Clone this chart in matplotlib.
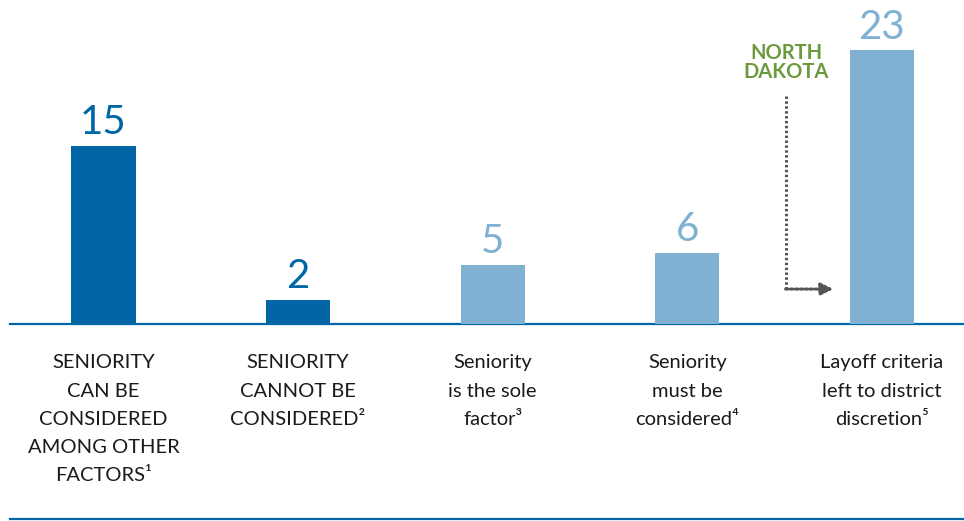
import matplotlib.pyplot as plt

categories = [
    "SENIORITY\nCAN BE\nCONSIDERED\nAMONG OTHER\nFACTORS\u00b9",
    "SENIORITY\nCANNOT BE\nCONSIDERED\u00b2",
    "Seniority\nis the sole\nfactor\u00b3",
    "Seniority\nmust be\nconsidered\u2074",
    "Layoff criteria\nleft to district\ndiscretion\u2075",
]
values = [15, 2, 5, 6, 23]
dark = "#0066a6"
light = "#80b1d3"
colors = [dark, dark, light, light, light]

plt.rcParams['font.family'] = ['Lato', 'DejaVu Sans']

fig = plt.figure(figsize=(9.64, 5.21), dpi=100)
ax = fig.add_axes([0, 0, 1, 1])
ax.set_xlim(-0.532, 4.422)
ax.set_ylim(-16.55, 27.23)
ax.axis('off')

x = list(range(len(values)))
ax.bar(x, values, width=0.33, color=colors, zorder=2)

# baseline and bottom rule
ax.plot([0.01, 1], [0.378, 0.378], transform=ax.transAxes, color=dark, lw=1.6, zorder=1)
ax.plot([0.01, 1], [0.004, 0.004], transform=ax.transAxes, color=dark, lw=1.6)

for xi, v, c in zip(x, values, colors):
    ax.text(xi, v + 0.4, str(v), ha='center', va='bottom', fontsize=29, color=c)

for xi, lab in zip(x, categories):
    ax.text(xi, -2.55, lab, ha='center', va='top', fontsize=14.5,
            linespacing=1.8, color='#1a1a1a')

# North Dakota callout
ax.text(3.51, 22.0, "NORTH\nDAKOTA", ha='center', va='center', fontsize=14.5,
        fontweight='bold', color='#6b9a3c', linespacing=0.95)
ax.plot([3.505, 3.505], [19.2, 2.94], color='#555555', lw=2.2, ls=(0, (0.8, 0.8)))
ax.annotate("", xy=(3.75, 2.94), xytext=(3.505, 2.94),
            arrowprops=dict(arrowstyle='-|>', color='#555555', lw=2.2,
                            ls=(0, (0.8, 0.8)), mutation_scale=18, shrinkA=0, shrinkB=0))

fig.savefig("out.png", dpi=100)
